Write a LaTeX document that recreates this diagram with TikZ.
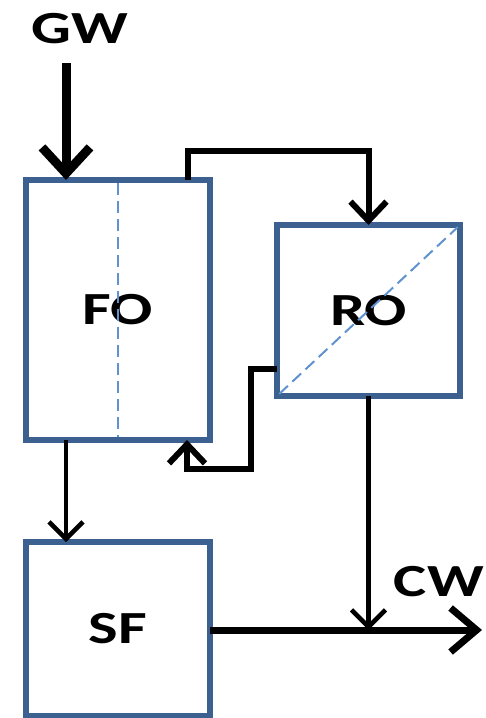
\documentclass[tikz,border=0pt]{standalone}
\usepackage{fontspec}
\setmainfont{Carlito}
\usetikzlibrary{arrows.meta}
\definecolor{boxblue}{RGB}{60,96,143}
\definecolor{dashblue}{RGB}{96,146,208}
\newcommand{\widetxt}[1]{\scalebox{1.36}[1]{#1}}
\begin{document}
\begin{tikzpicture}[x=1pt,y=-1pt,
  procbox/.style={draw=boxblue, line width=6.5pt, fill=white, inner sep=0pt, outer sep=0pt,
    font=\fontsize{46}{52}\selectfont\bfseries},
  lbl/.style={inner sep=0pt, font=\fontsize{46}{52}\selectfont\bfseries},
  divider/.style={draw=dashblue, line width=2pt, dash pattern=on 12pt off 6pt, shorten <=3pt, shorten >=3pt},
  flowbig/.style={line width=9pt, -{Straight Barb[length=26pt,width=48pt]}},
  flowmid/.style={line width=6pt, line join=miter, -{Straight Barb[length=19pt,width=36pt]}},
  flowthin/.style={line width=4.5pt, -{Straight Barb[length=17pt,width=34pt]}},
  flowout/.style={line width=7pt, -{Straight Barb[length=26pt,width=44pt]}}]
\useasboundingbox (0,0) rectangle (485,718);

\node[procbox, minimum width=184pt, minimum height=260pt] (FO) at (118,310) {\widetxt{FO}};
\node[procbox, minimum width=183pt, minimum height=171pt] (RO) at (368.5,310.5) {\widetxt{RO}};
\node[procbox, minimum width=184pt, minimum height=174pt] (SF) at (118,629) {\widetxt{SF}};

\draw[divider] (FO.north) -- (FO.south);
\draw[divider] (RO.south west) -- (RO.north east);

\node[lbl, anchor=base] (GW) at (80,43) {\widetxt{GW}};
\node[lbl, anchor=base east] (CW) at (484,596) {\widetxt{CW}};

\coordinate (gwstart) at (66,63);
\coordinate (k1) at (188,151);
\coordinate (k4) at (251,369);
\coordinate (k2) at (251,469);
\coordinate (k3) at (187,469);
\coordinate (cwend) at (482,630);

\draw[flowbig] (gwstart) -- (gwstart |- FO.north);
\draw[flowmid] (FO.north -| k1) -- (k1) -| (RO.north);
\draw[flowmid] (RO.west |- k4) -- (k4) -- (k2) -- (k3) -- (k3 |- FO.south);
\draw[flowthin] (gwstart |- FO.south) -- (gwstart |- SF.north);
\draw[flowout] (SF.east |- cwend) -- (cwend);
\draw[flowthin] (RO.south) -- (RO.south |- cwend);
\end{tikzpicture}
\end{document}
